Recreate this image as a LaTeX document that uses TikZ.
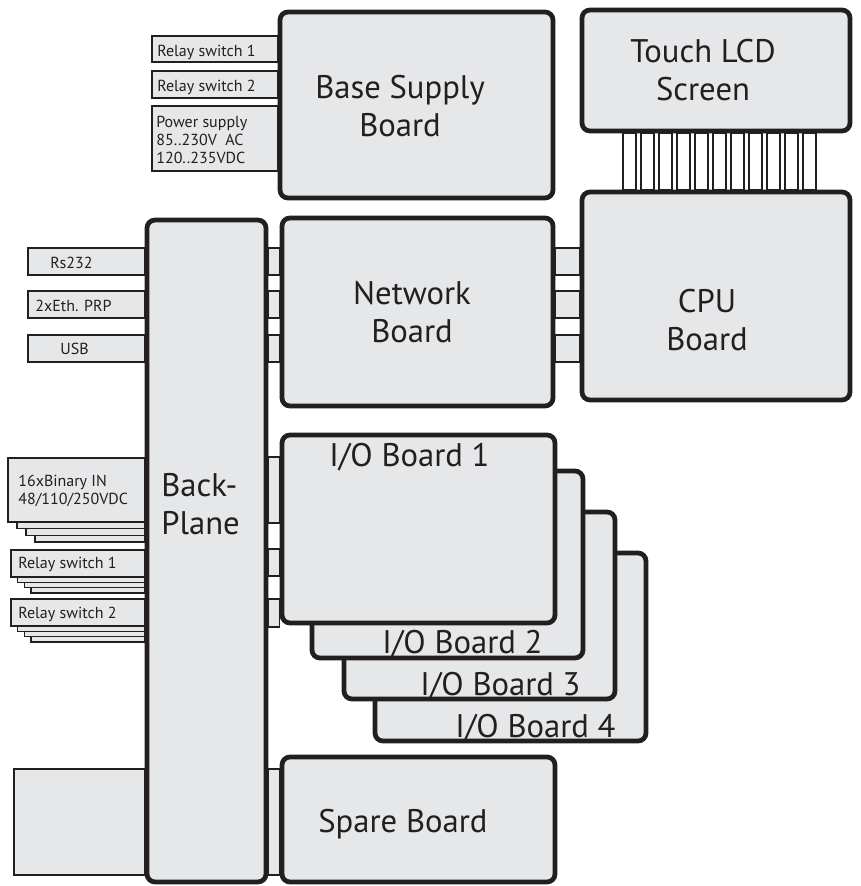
\documentclass[tikz,border=0pt]{standalone}
\usepackage{fontspec}
\setmainfont{PT Sans}
\usetikzlibrary{backgrounds}
\definecolor{panel}{RGB}{230,231,232}
\definecolor{ink}{RGB}{35,31,32}

\tikzset{
  board/.style={draw=ink, fill=panel, line width=2.7pt, rounded corners=4.5pt, inner sep=0pt},
  port/.style={draw=ink, fill=panel, line width=0.7pt},
  ribbon/.style={draw=ink, fill=white, line width=0.7pt},
  bigtxt/.style={text=ink, inner sep=0pt, font=\fontsize{18.6}{21.5}\selectfont},
  smalltxt/.style={text=ink, inner sep=0pt, font=\fontsize{9.1}{10.2}\selectfont},
}

\begin{document}
\begin{tikzpicture}[x=0.02cm, y=-0.02cm]
  \useasboundingbox (0,0) rectangle (861,886);

  % Boards, back to front
  \node[board, minimum width=5.46cm, minimum height=3.72cm] (base) at (416.5,105) {};
  \node[board, minimum width=5.36cm, minimum height=2.42cm] (lcd) at (716,70.5) {};
  \node[board, minimum width=5.36cm, minimum height=4.16cm] (cpu) at (716,296) {};
  \node[board, minimum width=5.42cm, minimum height=3.76cm] (net) at (417.5,312) {};
  \node[board, minimum width=2.38cm, minimum height=13.24cm] (bp) at (206.5,551) {};
  \node[board, minimum width=5.42cm, minimum height=3.76cm] (io4) at (510.5,647) {};
  \node[board, minimum width=5.42cm, minimum height=3.74cm] (io3) at (479.5,605.5) {};
  \node[board, minimum width=5.42cm, minimum height=3.74cm] (io2) at (447.5,564.5) {};
  \node[board, minimum width=5.46cm, minimum height=3.76cm] (io1) at (418.5,529) {};
  \node[board, minimum width=5.46cm, minimum height=2.5cm] (spare) at (418.5,819.5) {};

  \begin{scope}[on background layer]
    % supply inputs
    \draw[port] (152,36) rectangle (base.west |- 0,62);
    \draw[port] (152,71) rectangle (base.west |- 0,98);
    \draw[port] (152,106) rectangle (base.west |- 0,171);
    % comm ports through backplane and network board
    \foreach \ya/\yb in {248/275, 291/318, 335/362} {
      \draw[port] (28,\ya) rectangle (bp.west |- 0,\yb);
      \draw[port] (bp.east |- 0,\ya) rectangle (net.west |- 0,\yb);
      \draw[port] (net.east |- 0,\ya) rectangle (cpu.west |- 0,\yb);
    }
    % stacked I/O terminals
    \foreach \k in {3,2,1,0}
      \draw[port] (8+9*\k,458+6.7*\k) rectangle (bp.west |- 0,522+6.7*\k);
    \foreach \yy in {550,599}
      \foreach \k in {3,2,1,0}
        \draw[port] (11+6.7*\k,\yy+5.3*\k) rectangle (bp.west |- 0,\yy+27+5.3*\k);
    \foreach \ya/\yb in {457/523, 549/576, 599/627}
      \draw[port] (bp.east |- 0,\ya) rectangle (io1.west |- 0,\yb);
    % spare slot
    \draw[port] (14,769) rectangle (bp.west |- 0,875);
    \draw[port] (bp.east |- 0,769) rectangle (spare.west |- 0,875);
    % display ribbon
    \foreach \k in {0,...,10}
      \draw[ribbon] (623+18*\k,0 |- lcd.south) rectangle (636+18*\k,0 |- cpu.north);
  \end{scope}

  % Board names
  \node[bigtxt, align=center] (baseT) at (400,106) {Base Supply\\Board};
  \node[bigtxt, align=center] (lcdT) at (703,70) {Touch LCD\\Screen};
  \node[bigtxt, align=center] (cpuT) at (707,320) {CPU\\Board};
  \node[bigtxt, align=center] (netT) at (412,312) {Network\\Board};
  \node[bigtxt, align=left, anchor=west] (bpT) at (161,504) {Back-\\Plane};
  \node[bigtxt, anchor=base west] (io1T) at (329,466) {I/O Board 1};
  \node[bigtxt, anchor=base west] (io2T) at (382,653) {I/O Board 2};
  \node[bigtxt, anchor=base west] (io3T) at (420,695) {I/O Board 3};
  \node[bigtxt, anchor=base west] (io4T) at (455,737) {I/O Board 4};
  \node[bigtxt, anchor=base west] (spareT) at (318,832) {Spare Board};

  % Port names
  \node[smalltxt, anchor=base west] (rsAT) at (157,56) {Relay switch 1};
  \node[smalltxt, anchor=base west] (rsBT) at (157,91) {Relay switch 2};
  \node[smalltxt, align=left, anchor=west] (psuT) at (156,140) {Power supply\\85..230V\ \ AC\\120..235VDC};
  \node[smalltxt, anchor=base west] (rs232T) at (50,268) {Rs232};
  \node[smalltxt, anchor=base west] (ethT) at (35,311) {2xEth. PRP};
  \node[smalltxt, anchor=base west] (usbT) at (60,354) {USB};
  \node[smalltxt, align=left, anchor=west] (binT) at (18,491) {16xBinary IN\\48/110/250VDC};
  \node[smalltxt, anchor=base west] (rlyAT) at (18,568) {Relay switch 1};
  \node[smalltxt, anchor=base west] (rlyBT) at (18,618) {Relay switch 2};
\end{tikzpicture}
\end{document}
